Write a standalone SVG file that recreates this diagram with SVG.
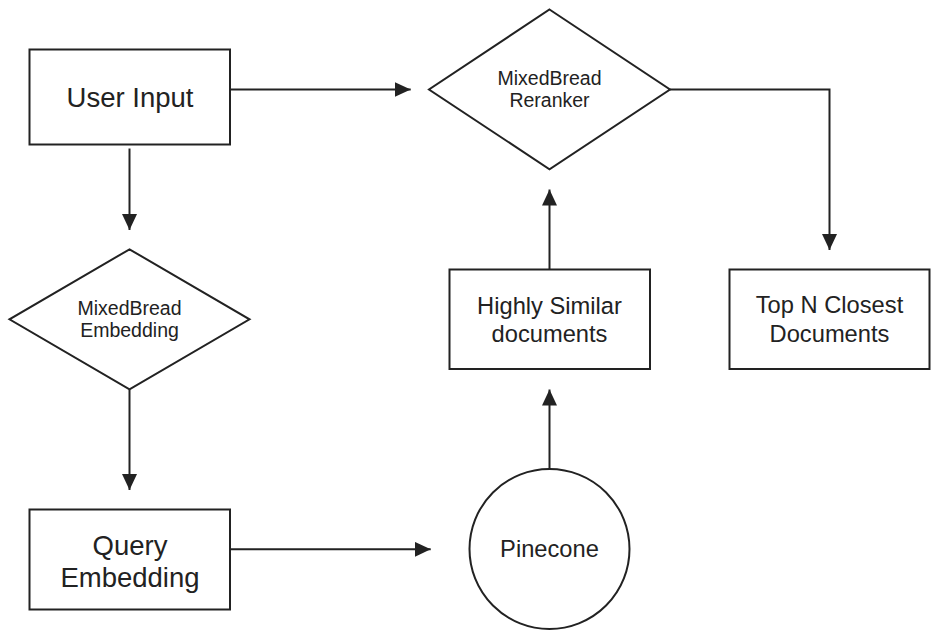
<svg xmlns="http://www.w3.org/2000/svg" width="940" height="640" viewBox="0 0 940 640">
<defs>
<style>
.shape{fill:#ffffff;stroke:#222222;stroke-width:2}
.conn{fill:none;stroke:#222222;stroke-width:2}
text{font-family:"Liberation Sans",Arial,sans-serif;fill:#222222;text-anchor:middle}
.big{font-size:27.5px}
.mid{font-size:23.7px}
.small{font-size:19.5px}
</style>
<marker id="arrow" markerUnits="userSpaceOnUse" markerWidth="16" markerHeight="16" refX="16" refY="7.5" orient="auto">
<path d="M0,0 L16,7.5 L0,15 Z" fill="#222222"/>
</marker>
</defs>
<rect width="940" height="640" fill="#ffffff"/>
<g id="connectors">
<path class="conn" d="M230,89.5 L410.7,89.5" marker-end="url(#arrow)"/>
<path class="conn" d="M129.5,148.5 L129.5,230" marker-end="url(#arrow)"/>
<path class="conn" d="M129.5,389.5 L129.5,490" marker-end="url(#arrow)"/>
<path class="conn" d="M230,549.3 L430.7,549.3" marker-end="url(#arrow)"/>
<path class="conn" d="M549.5,469 L549.5,389.5" marker-end="url(#arrow)"/>
<path class="conn" d="M549.5,269 L549.5,189.5" marker-end="url(#arrow)"/>
<path class="conn" d="M670,89.5 L829.5,89.5 L829.5,250" marker-end="url(#arrow)"/>
</g>
<g id="user-input">
<rect class="shape" x="29.5" y="49.5" width="200.5" height="95"/>
<text class="big" x="130" y="107">User Input</text>
</g>
<g id="mixedbread-embedding">
<polygon class="shape" points="129.5,249.3 249.5,319.3 129.5,389.3 9.5,319.3"/>
<text class="small" x="129.5" y="315">MixedBread</text>
<text class="small" x="129.5" y="337.3">Embedding</text>
</g>
<g id="query-embedding">
<rect class="shape" x="29.5" y="509.5" width="200.5" height="100"/>
<text class="big" x="130" y="555">Query</text>
<text class="big" x="130" y="586.7">Embedding</text>
</g>
<g id="pinecone">
<circle class="shape" cx="549.5" cy="549" r="80"/>
<text class="mid" x="549.5" y="557">Pinecone</text>
</g>
<g id="highly-similar-documents">
<rect class="shape" x="449.5" y="269.5" width="200.5" height="99.5"/>
<text class="mid" x="549.5" y="314">Highly Similar</text>
<text class="mid" x="549.5" y="342">documents</text>
</g>
<g id="mixedbread-reranker">
<polygon class="shape" points="549.5,9.5 670,89.5 549.5,169.3 429,89.5"/>
<text class="small" x="549.5" y="85">MixedBread</text>
<text class="small" x="549.5" y="107.3">Reranker</text>
</g>
<g id="top-n-closest-documents">
<rect class="shape" x="729.5" y="269.5" width="200" height="99.5"/>
<text class="mid" x="829.5" y="313">Top N Closest</text>
<text class="mid" x="829.5" y="342">Documents</text>
</g>
</svg>
